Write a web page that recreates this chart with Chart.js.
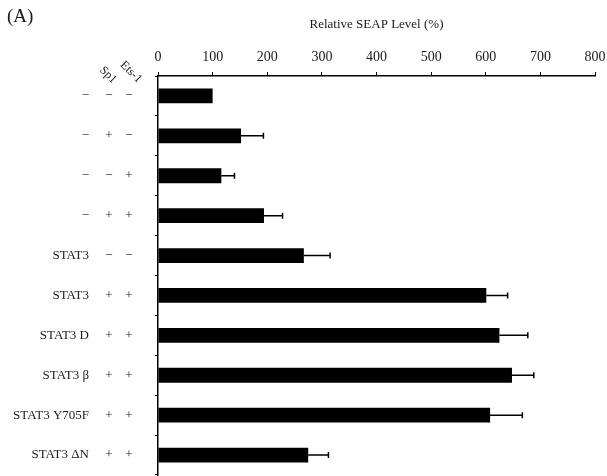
<!DOCTYPE html>
<html>
<head>
<meta charset="utf-8">
<script src="https://cdn.jsdelivr.net/npm/chart.js@4/dist/chart.umd.min.js"></script>
<style>
  html, body { margin: 0; padding: 0; background: #fff; }
  #wrap { width: 607px; height: 476px; }
</style>
</head>
<body>
<div id="wrap"><canvas id="seap-chart"></canvas></div>
<script>
const constructs = ['−', '−', '−', '−', 'STAT3', 'STAT3', 'STAT3 D', 'STAT3 β', 'STAT3 Y705F', 'STAT3 ΔN'];
const sp1 = ['−', '+', '−', '+', '−', '+', '+', '+', '+', '+'];
const ets1 = ['−', '−', '+', '+', '−', '+', '+', '+', '+', '+'];
const seapLevel = [100, 152, 116, 194, 267, 601, 625, 648, 608, 275];
const seapError = [0, 41, 24, 34, 48, 39, 52, 40, 59, 37];
const xTicks = [0, 100, 200, 300, 400, 500, 600, 700, 800];

const serif = '"Liberation Serif", "DejaVu Serif", serif';
const ink = '#1a1a1a';

const errorBars = {
  id: 'errorBars',
  afterDatasetsDraw: (chart) => {
    const { ctx, scales: { x, y } } = chart;
    ctx.save();
    ctx.strokeStyle = '#000';
    ctx.lineWidth = 1.5;
    seapLevel.forEach((value, i) => {
      if (!seapError[i]) return;
      const yPos = y.getPixelForValue(i);
      const x0 = x.getPixelForValue(value);
      const x1 = x.getPixelForValue(value + seapError[i]);
      ctx.beginPath();
      ctx.moveTo(x0, yPos);
      ctx.lineTo(x1, yPos);
      ctx.moveTo(x1, yPos - 3);
      ctx.lineTo(x1, yPos + 3);
      ctx.stroke();
    });
    ctx.restore();
  }
};

const rowLabels = {
  id: 'rowLabels',
  afterDraw: (chart) => {
    const { ctx, scales: { y } } = chart;
    ctx.save();
    ctx.fillStyle = ink;
    ctx.font = `13px ${serif}`;
    ctx.textBaseline = 'middle';
    constructs.forEach((name, i) => {
      const yPos = y.getPixelForValue(i);
      ctx.textAlign = 'right';
      ctx.fillText(name, 89, yPos);
      ctx.textAlign = 'center';
      ctx.fillText(sp1[i], 109, yPos);
      ctx.fillText(ets1[i], 129, yPos);
    });

    // rotated column headers
    ctx.font = `12px ${serif}`;
    [['Sp1', 108, 75], ['Ets-1', 131, 72]].forEach(([text, cx, cy]) => {
      ctx.save();
      ctx.translate(cx, cy);
      ctx.rotate(Math.PI / 4);
      ctx.textAlign = 'center';
      ctx.fillText(text, 0, 0);
      ctx.restore();
    });

    ctx.font = `19px ${serif}`;
    ctx.textAlign = 'left';
    ctx.fillText('(A)', 7, 17);
    ctx.restore();
  }
};

new Chart(document.getElementById('seap-chart'), {
  type: 'bar',
  data: {
    labels: constructs,
    datasets: [{
      data: seapLevel,
      backgroundColor: '#000',
      barPercentage: 0.37,
      categoryPercentage: 1
    }]
  },
  options: {
    indexAxis: 'y',
    responsive: true,
    maintainAspectRatio: false,
    animation: false,
    layout: { padding: { left: 0, right: 12, top: 0, bottom: 1 } },
    plugins: {
      legend: { display: false },
      tooltip: { enabled: false }
    },
    scales: {
      x: {
        position: 'top',
        min: 0,
        max: 800,
        afterBuildTicks: (scale) => {
          scale.ticks = xTicks.map(value => ({ value }));
        },
        afterFit: (scale) => {
          scale.height = 76;
          scale.paddingLeft = 0;
          scale.paddingRight = 0;
        },
        grid: { drawOnChartArea: false, tickLength: 4, color: '#000' },
        border: { color: '#000', width: 1.5 },
        ticks: {
          color: ink,
          padding: 6,
          maxRotation: 0,
          font: { family: serif, size: 14 }
        },
        title: {
          display: true,
          text: 'Relative SEAP Level (%)',
          color: ink,
          padding: { top: 17, bottom: 0 },
          font: { family: serif, size: 13 }
        }
      },
      y: {
        afterFit: (scale) => { scale.width = 158; },
        grid: { drawOnChartArea: false, tickLength: 3, color: '#000', offset: true },
        border: { color: '#000', width: 1.5 },
        ticks: { display: false }
      }
    }
  },
  plugins: [errorBars, rowLabels]
});
</script>
</body>
</html>
